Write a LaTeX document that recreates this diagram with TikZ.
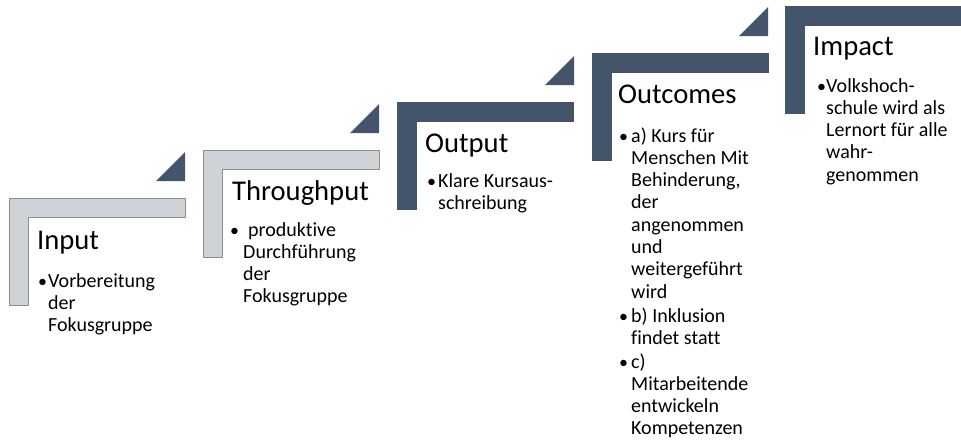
\documentclass[tikz,border=0pt]{standalone}
\usepackage{fontspec}
\setmainfont{Carlito}[Ligatures=NoCommon]
\definecolor{darkslate}{HTML}{44546A}
\definecolor{lightfill}{HTML}{D0D3D6}
\definecolor{lightedge}{HTML}{8A8F94}
\tikzset{
  steptitle/.style={anchor=base west, inner sep=0pt, font=\fontsize{28.6}{30}\selectfont},
  stepbody/.style={anchor=base west, inner sep=0pt, font=\fontsize{20}{22.3}\selectfont},
  stepbullet/.style={anchor=base west, inner sep=0pt, font=\fontsize{18}{22.3}\selectfont},
  darkstep/.style={fill=darkslate, draw=darkslate, line width=0.6pt},
  lightstep/.style={fill=lightfill, draw=lightedge, line width=1pt},
  steptri/.style={fill=darkslate},
}
\newcommand{\Lstep}[3]{\path[#3] (#1,#2) -- ++(176,0) -- ++(0,19) -- ++(-157,0) -- ++(0,88) -- ++(-19,0) -- cycle;}
\newcommand{\Tri}[2]{\path[steptri] (#1,#2) -- ++(0,-29) -- ++(-29,29) -- cycle;}
\newcommand{\Lines}[1]{\vtop{\halign{##\hfil\cr #1\crcr}}}
\begin{document}
\begin{tikzpicture}[x=1pt,y=-1pt]
\useasboundingbox (0,0) rectangle (961,442);
\fill[white] (0,0) rectangle (961,442);
% L-shaped steps
\Lstep{9}{198}{lightstep}
\Lstep{203}{150}{lightstep}
\Lstep{397}{102}{darkstep}
\Lstep{592}{53}{darkstep}
\Lstep{785}{6}{darkstep}
% triangles
\Tri{185}{181}
\Tri{379}{133}
\Tri{574}{85}
\Tri{768}{36}
% Input
\node[steptitle] (t1) at (37,249) {Input};
\node[stepbullet] (b1) at (38,287) {•};
\node[stepbody] (x1) at (48,287) {\Lines{Vorbereitung\cr der\cr Fokusgruppe}};
% Throughput
\node[steptitle] (t2) at (232,200) {Throughput};
\node[stepbullet] (b2) at (230,236) {•};
\node[stepbody] (x2) at (243,236) {\Lines{\hspace*{5pt}produktive\cr Durchführung\cr der\cr Fokusgruppe}};
% Output
\node[steptitle] (t3) at (425,152) {Output};
\node[stepbullet] (b3) at (427,187) {•};
\node[stepbody] (x3) at (438,187) {\Lines{Klare Kursaus-\cr schreibung}};
% Outcomes
\node[steptitle] (t4) at (618,103) {Outcomes};
\node[stepbullet] (b4a) at (619,142) {•};
\node[stepbody] (x4a) at (631,142) {\Lines{a) Kurs für\cr Menschen Mit\cr Behinderung,\cr der\cr angenommen\cr und\cr weitergeführt\cr wird}};
\node[stepbullet] (b4b) at (619,322) {•};
\node[stepbody] (x4b) at (631,322) {\Lines{b) Inklusion\cr findet statt}};
\node[stepbullet] (b4c) at (619,368) {•};
\node[stepbody] (x4c) at (631,368) {\Lines{c)\cr Mitarbeitende\cr entwickeln\cr Kompetenzen}};
% Impact
\node[steptitle] (t5) at (813,55) {Impact};
\node[stepbullet] (b5) at (817,92) {•};
\node[stepbody] (x5) at (826,92) {\Lines{Volkshoch-\cr schule wird als\cr Lernort für alle\cr wahr-\cr genommen}};
\end{tikzpicture}
\end{document}
